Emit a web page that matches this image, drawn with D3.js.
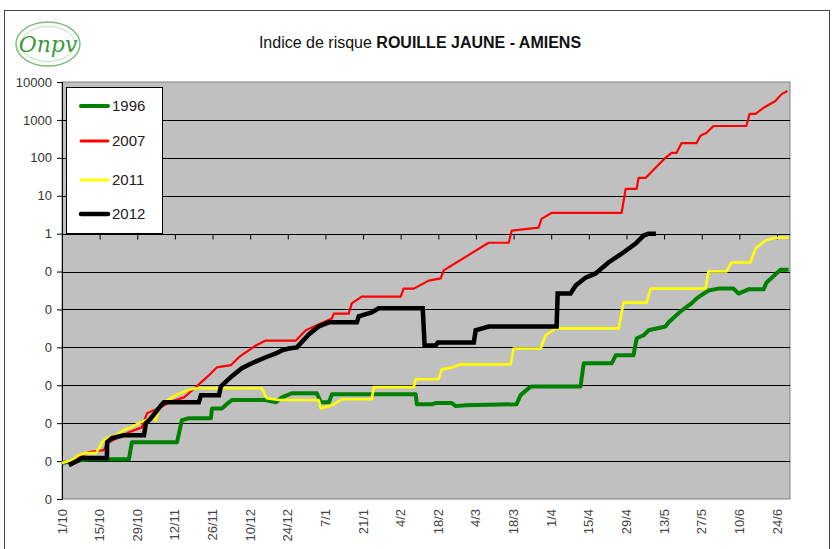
<!DOCTYPE html>
<html>
<head>
<meta charset="utf-8">
<script src="https://cdn.jsdelivr.net/npm/d3@7/dist/d3.min.js"></script>
<style>
  body { margin: 0; background: #fff; }
  svg { display: block; }
  text { font-family: "Liberation Sans", Arial, sans-serif; }
</style>
</head>
<body>
<svg id="chart" width="834" height="549"></svg>
<script>
// tick labels of the date axis (days counted from 1/10)
const tickDays = [0, 14, 28, 42, 56, 70, 84, 98, 112, 126, 140, 154, 168, 182, 196, 210, 224, 238, 252, 266];
const tickLabels = ["1/10", "15/10", "29/10", "12/11", "26/11", "10/12", "24/12", "7/1", "21/1", "4/2",
                    "18/2", "4/3", "18/3", "1/4", "15/4", "29/4", "13/5", "27/5", "10/6", "24/6"];
const yTicks = [1e-7, 1e-6, 1e-5, 1e-4, 1e-3, 1e-2, 1e-1, 1, 10, 100, 1000, 10000];

const seriesNames = ["1996", "2007", "2011", "2012"];
const seriesColors = ["#008000", "#ff0000", "#ffff00", "#000000"];
const seriesWidths = [4, 2.2, 2.6, 4.5];

// [day since 1/10, log10 of risk index]
const s1996 = [[0,-6.05],[4.5,-6.0],[10,-5.95],[24.9,-5.95],[26,-5.5],[42.8,-5.5],[44.6,-4.92],[47.2,-4.87],
  [55.4,-4.87],[55.8,-4.61],[59.5,-4.61],[62.1,-4.45],[63.2,-4.39],[75.8,-4.39],[79.6,-4.45],[81.8,-4.32],
  [85.5,-4.21],[94.8,-4.21],[96.3,-4.45],[99.3,-4.45],[100.4,-4.24],[131.6,-4.24],[132,-4.5],[137.5,-4.5],
  [139,-4.47],[145,-4.47],[146.5,-4.55],[150.2,-4.53],[169.1,-4.5],[170.6,-4.26],[173.6,-4.08],[174.7,-4.03],
  [192.9,-4.03],[194.1,-3.42],[204.5,-3.42],[206,-3.21],[212.6,-3.21],[213.8,-2.76],[216.4,-2.68],[218.2,-2.55],
  [224.5,-2.45],[225.7,-2.34],[230.5,-2.03],[234.2,-1.84],[236.1,-1.71],[240.5,-1.5],[244.2,-1.45],[249.8,-1.45],
  [251.7,-1.58],[255.4,-1.47],[261,-1.47],[262.1,-1.29],[265.8,-1.05],[267.3,-0.95],[270.3,-0.95]];

const s2007 = [[0,-6.05],[4.5,-5.97],[10,-5.76],[15.6,-5.71],[16.7,-5.53],[24.9,-5.24],[29.7,-5.11],[31.6,-4.74],
  [36.8,-4.58],[39.8,-4.45],[45.4,-4.32],[49.8,-4.05],[54.6,-3.74],[57.6,-3.53],[62.8,-3.47],[65.8,-3.26],
  [72.1,-2.95],[75.8,-2.82],[87,-2.82],[90.7,-2.55],[100.4,-2.24],[101.1,-2.11],[106.7,-2.11],[107.8,-1.84],
  [111.5,-1.66],[126,-1.66],[127.1,-1.45],[130.9,-1.45],[136.4,-1.24],[140.9,-1.18],[142,-0.97],[158.7,-0.24],
  [166.2,-0.24],[167.3,0.08],[177.3,0.16],[178.4,0.39],[182.2,0.55],[208.2,0.55],[209.7,1.18],[213.8,1.18],
  [214.5,1.47],[217.1,1.47],[220.8,1.74],[224.5,2.0],[226.8,2.13],[228.6,2.13],[230.5,2.39],[236.1,2.39],
  [237.5,2.58],[239.8,2.66],[242.4,2.84],[254.6,2.84],[255.8,3.16],[258,3.16],[261,3.32],[265.4,3.5],
  [267.7,3.68],[269.9,3.76]];

const s2011 = [[0,-6.05],[3.7,-5.97],[6.3,-5.84],[8.9,-5.79],[12.6,-5.79],[13.8,-5.66],[14.9,-5.5],[16.7,-5.39],
  [20.1,-5.32],[23,-5.18],[25.7,-5.11],[28.6,-5.0],[31.2,-4.92],[33.5,-4.87],[34.9,-4.92],[36.1,-4.58],
  [37.9,-4.45],[42.4,-4.26],[46.5,-4.13],[49.8,-4.08],[74.3,-4.08],[76.2,-4.34],[80.7,-4.39],[95.5,-4.39],
  [96.3,-4.61],[100.4,-4.53],[104.1,-4.37],[115.2,-4.37],[116,-4.05],[130.9,-4.05],[131.6,-3.84],[140.1,-3.84],
  [141.3,-3.58],[145,-3.53],[148.3,-3.45],[166.9,-3.45],[168,-3.03],[178.1,-3.03],[179.9,-2.68],[183.6,-2.5],
  [207.1,-2.5],[208.9,-1.82],[217.5,-1.82],[219,-1.45],[239.4,-1.45],[240.5,-1.0],[247.2,-1.0],[249.1,-0.76],
  [256.1,-0.76],[258,-0.39],[261.7,-0.18],[265.4,-0.11],[270.3,-0.11]];

const s2012 = [[3.3,-6.08],[5.6,-6.0],[7.4,-5.92],[16.7,-5.92],[16.8,-5.5],[18.6,-5.39],[23,-5.32],[30.5,-5.32],
  [31.2,-5.0],[33.1,-4.87],[34.9,-4.71],[36.8,-4.53],[37.9,-4.45],[50.9,-4.45],[51.7,-4.26],[58.4,-4.26],
  [59.1,-4.03],[63.2,-3.76],[66.9,-3.55],[70.6,-3.42],[75.8,-3.26],[79.6,-3.16],[81.8,-3.08],[84.4,-3.03],
  [87.4,-3.0],[91.8,-2.66],[95.5,-2.45],[99.3,-2.34],[109.7,-2.34],[110.4,-2.18],[115.2,-2.08],[117.8,-1.97],
  [134.2,-1.97],[134.9,-2.95],[139,-2.95],[139.8,-2.87],[153.2,-2.87],[153.9,-2.55],[158.7,-2.45],[184,-2.45],
  [184.4,-1.58],[189.2,-1.58],[191.1,-1.37],[194.8,-1.16],[198.5,-1.05],[203.3,-0.76],[208.2,-0.53],[213.4,-0.26],
  [216.4,-0.05],[218.2,0],[220.1,0]];

const allSeries = [s1996, s2007, s2011, s2012];

const svg = d3.select("#chart");
const plotLeft = 62, plotRight = 790, plotTop = 82, plotBottom = 499;

var x = d3.scaleLinear().domain([0, 266]).range([plotLeft, 777]);
var y = d3.scaleLog().domain([1e-7, 1e4]).range([plotBottom, plotTop]);

// outer frame
svg.append("rect")
    .attr("x", 4.5).attr("y", 10.5).attr("width", 825).attr("height", 560)
    .attr("fill", "none").attr("stroke", "#444").attr("stroke-width", 1);

// logo
var logo = svg.append("g").attr("transform", "translate(48,44)");
logo.append("ellipse").attr("rx", 32).attr("ry", 22)
    .attr("fill", "#fff").attr("stroke", "#7cc07c").attr("stroke-width", 1.5);
logo.append("ellipse").attr("rx", 27).attr("ry", 17.5)
    .attr("fill", "none").attr("stroke", "#a8d8a8").attr("stroke-width", 0.8);
logo.append("text").attr("x", 0).attr("y", 8).attr("text-anchor", "middle")
    .style("font-family", "'DejaVu Serif', serif").style("font-style", "italic")
    .style("font-size", "22px").attr("fill", "#3c9a3c").text("Onpv");

// title
var title = svg.append("text").attr("x", 420).attr("y", 48).attr("text-anchor", "middle")
    .style("font-size", "16px").attr("fill", "#111");
title.append("tspan").text("Indice de risque ");
title.append("tspan").style("font-weight", "bold").text("ROUILLE JAUNE - AMIENS");

// plot background
svg.append("rect")
    .attr("x", plotLeft).attr("y", plotTop).attr("width", plotRight - plotLeft).attr("height", plotBottom - plotTop)
    .attr("fill", "#c0c0c0").attr("stroke", "#808080").attr("stroke-width", 1);

// gridlines at each decade
svg.selectAll("line.grid")
    .data(yTicks.slice(1, -1))
    .enter()
    .append("line")
    .attr("class", "grid")
    .attr("x1", plotLeft).attr("x2", plotRight)
    .attr("y1", d => Math.round(y(d)) + 0.5).attr("y2", d => Math.round(y(d)) + 0.5)
    .attr("stroke", "#000").attr("stroke-width", 1);

// y axis
var yAxis = svg.append("g")
    .attr("transform", `translate(${plotLeft},0)`)
    .call(d3.axisLeft(y).tickValues(yTicks).tickSize(5).tickPadding(5)
        .tickFormat(d => d >= 1 ? d3.format("d")(d) : "0"));
yAxis.select(".domain").attr("stroke", "#000");
yAxis.selectAll(".tick line").attr("stroke", "#000");
yAxis.selectAll(".tick text").style("font-size", "13px").attr("fill", "#333")
    .style("font-family", "'Liberation Sans', Arial, sans-serif");

// x axis crosses at 1
var xAxis = svg.append("g")
    .attr("transform", `translate(0,${Math.round(y(1)) + 0.5})`)
    .call(d3.axisBottom(x).tickValues(tickDays).tickSize(5).tickFormat(""));
xAxis.select(".domain").remove();
xAxis.selectAll(".tick line").attr("stroke", "#000");

// date labels at the bottom
svg.selectAll("text.xlab")
    .data(tickDays)
    .enter()
    .append("text")
    .attr("class", "xlab")
    .attr("transform", d => `translate(${x(d) + 4.5},509) rotate(-90)`)
    .attr("text-anchor", "end")
    .style("font-size", "13px")
    .attr("fill", "#444")
    .text((d, i) => tickLabels[i]);

// series
var line = d3.line()
    .x(d => x(d[0]))
    .y(d => y(Math.pow(10, d[1])));

svg.selectAll("path.series")
    .data(allSeries)
    .enter()
    .append("path")
    .attr("class", "series")
    .attr("d", line)
    .attr("fill", "none")
    .attr("stroke", (d, i) => seriesColors[i])
    .attr("stroke-width", (d, i) => seriesWidths[i])
    .attr("stroke-linejoin", (d, i) => i === 3 ? "miter" : "round")
    .attr("stroke-linecap", (d, i) => i === 3 ? "square" : "butt");

// legend
var legend = svg.append("g");
legend.append("rect")
    .attr("x", 66.5).attr("y", 87.5).attr("width", 96).attr("height", 146)
    .attr("fill", "#fff").attr("stroke", "#000").attr("stroke-width", 1);
var legendY = [106, 141, 180, 214];
var items = legend.selectAll("g.item")
    .data(seriesNames)
    .enter()
    .append("g")
    .attr("transform", (d, i) => `translate(0,${legendY[i]})`);
items.append("line")
    .attr("x1", 81).attr("x2", 108)
    .attr("stroke", (d, i) => seriesColors[i])
    .attr("stroke-width", (d, i) => Math.max(3, seriesWidths[i]))
    .attr("stroke-linecap", "round");
items.append("text")
    .attr("x", 112).attr("dy", "0.36em")
    .style("font-size", "15px").attr("fill", "#222")
    .text(d => d);
</script>
</body>
</html>
